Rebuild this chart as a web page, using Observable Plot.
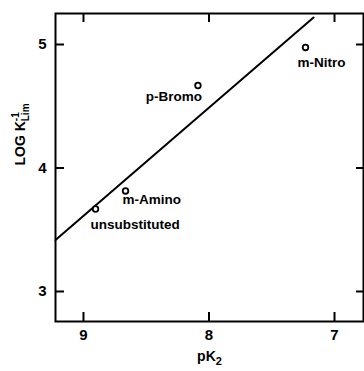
<!DOCTYPE html>
<html><head><meta charset="utf-8">
<script src="https://cdn.jsdelivr.net/npm/d3@7"></script>
<script src="https://cdn.jsdelivr.net/npm/@observablehq/plot@0.6"></script>
<style>
body{margin:0;background:#fff}
#chart svg{font-family:"Liberation Sans",Arial,sans-serif;font-weight:bold}
</style>
</head><body><div id="chart"></div>
<script>
// Data
const compounds = ["unsubstituted", "m-Amino", "p-Bromo", "m-Nitro"];
const pK2 = [8.904, 8.665, 8.088, 7.231];
const logK = [3.668, 3.814, 4.668, 4.976];
// Fitted straight line (end points as drawn)
const fitX = [9.223, 7.167];
const fitY = [3.417, 5.219];
// Axis ticks
const xTicks = [9, 8, 7];
const yTicks = [3, 4, 5];

const points = compounds.map((name, i) => ({name, pK: pK2[i], logK: logK[i]}));
const fit = fitX.map((x, i) => ({x, y: fitY[i]}));

// label placement (style)
const placement = {
  "unsubstituted": {dx: -5, dy: 16, textAnchor: "start"},
  "m-Amino": {dx: -3, dy: 9, textAnchor: "start"},
  "p-Bromo": {dx: 4, dy: 11, textAnchor: "end"},
  "m-Nitro": {dx: 16, dy: 15, textAnchor: "middle"}
};

const chart = Plot.plot({
  width: 364, height: 371,
  marginLeft: 55, marginRight: 1, marginTop: 13, marginBottom: 50,
  style: {fontFamily: '"Liberation Sans", Arial, sans-serif', fontWeight: "bold", fontSize: "15px", color: "#000", background: "#fff"},
  x: {domain: [9.223, 6.769]},
  y: {domain: [2.757, 5.251]},
  marks: [
    Plot.frame({stroke: "#000", strokeWidth: 2}),
    Plot.axisX({anchor: "bottom", ticks: xTicks, tickSize: -9, tickPadding: 17, tickFormat: d => String(d), label: null, strokeWidth: 2, fontSize: 15}),
    Plot.axisX({anchor: "top", ticks: xTicks, tickSize: -8, tickFormat: () => "", label: null, strokeWidth: 2}),
    Plot.axisY({anchor: "left", ticks: yTicks, tickSize: -9, tickPadding: 18, tickFormat: d => String(d), label: null, strokeWidth: 2, fontSize: 15}),
    Plot.axisY({anchor: "right", ticks: yTicks, tickSize: -8, tickFormat: () => "", label: null, strokeWidth: 2}),
    Plot.line(fit, {x: "x", y: "y", stroke: "#000", strokeWidth: 2}),
    Plot.dot(points, {x: "pK", y: "logK", r: 2.8, stroke: "#000", strokeWidth: 1.8, fill: "#fff"}),
    ...points.map(p => Plot.text([p], {x: "pK", y: "logK", text: "name", fontSize: 13.5, fontWeight: "bold", fill: "#000", ...placement[p.name]})),
    Plot.text(["pK2"], {frameAnchor: "bottom", text: d => d, dy: 39, fontSize: 14, fontWeight: "bold", fill: "#000"}),
    Plot.text(["LOGK"], {frameAnchor: "left", text: d => d, rotate: -90, dx: -35, dy: -2, fontSize: 14, fontWeight: "bold", fill: "#000"})
  ]
});
document.getElementById("chart").appendChild(chart);

d3.select(chart).selectAll("text").each(function () {
  const t = d3.select(this);
  const c = this.textContent;
  if (c === "pK2") {
    t.text("pK");
    t.append("tspan").attr("dy", 4).attr("font-size", 11).text("2");
  } else if (c === "LOGK") {
    t.text("LOG K");
    t.append("tspan").attr("dy", -6).attr("font-size", 10).text("-1");
    t.append("tspan").attr("dx", -9).attr("dy", 10).attr("font-size", 10).text("Lim");
  }
});
</script>
</body></html>
